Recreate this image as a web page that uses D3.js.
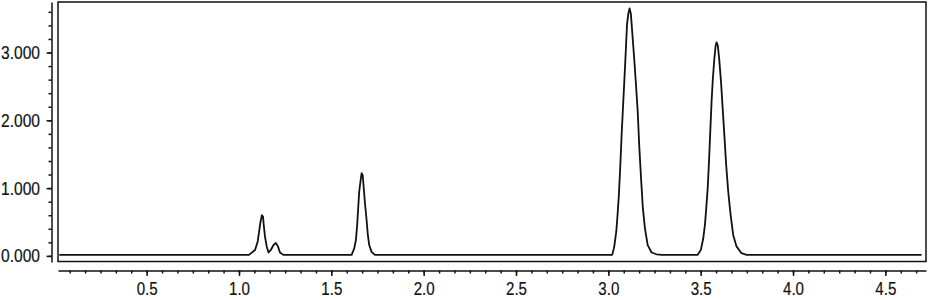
<!DOCTYPE html>
<html>
<head>
<meta charset="utf-8">
<script src="https://cdn.jsdelivr.net/npm/d3@7"></script>
<style>
  body { margin: 0; background: #fff; }
  .axis text { font-family: "Liberation Sans", Arial, sans-serif; font-size: 19px; fill: #111; stroke: #111; stroke-width: 0.2px; }
  .axis path, .axis line { stroke: #111; stroke-width: 1.5px; }
</style>
</head>
<body>
<div id="chromato"></div>
<script>
// temps en minutes, signal du détecteur
var ligneDebut = [[0.027, 0.015], [1.054, 0.015]];
var pic1 = [[1.087, 0.087], [1.101, 0.21], [1.108, 0.34], [1.115, 0.48], [1.124, 0.60], [1.130, 0.58],
            [1.134, 0.46], [1.141, 0.28], [1.150, 0.14], [1.160, 0.05], [1.173, 0.09], [1.187, 0.16],
            [1.200, 0.19], [1.211, 0.14], [1.222, 0.05], [1.240, 0.015]];
var pic2 = [[1.610, 0.015], [1.624, 0.11], [1.633, 0.23], [1.640, 0.46], [1.646, 0.73], [1.651, 0.95],
            [1.659, 1.12], [1.664, 1.22], [1.670, 1.19], [1.675, 1.02], [1.682, 0.78], [1.691, 0.53],
            [1.697, 0.33], [1.705, 0.16], [1.718, 0.06], [1.736, 0.015]];
var pic3 = [[3.021, 0.015], [3.032, 0.137], [3.043, 0.36], [3.050, 0.61], [3.057, 0.90], [3.064, 1.29],
            [3.072, 1.79], [3.081, 2.28], [3.090, 2.77], [3.095, 3.06], [3.101, 3.41], [3.108, 3.57],
            [3.115, 3.65], [3.122, 3.57], [3.129, 3.31], [3.140, 2.91], [3.151, 2.47], [3.159, 2.13],
            [3.167, 1.64], [3.177, 1.145], [3.187, 0.70], [3.198, 0.41], [3.213, 0.16], [3.234, 0.05],
            [3.261, 0.024], [3.290, 0.015]];
var pic4 = [[3.483, 0.015], [3.501, 0.089], [3.514, 0.26], [3.523, 0.46], [3.530, 0.70], [3.538, 1.00],
            [3.545, 1.39], [3.552, 1.84], [3.559, 2.28], [3.566, 2.62], [3.574, 2.91], [3.581, 3.10],
            [3.586, 3.15], [3.593, 3.10], [3.600, 2.91], [3.610, 2.57], [3.619, 2.18], [3.628, 1.785],
            [3.638, 1.34], [3.649, 0.95], [3.662, 0.605], [3.676, 0.31], [3.694, 0.14], [3.721, 0.04],
            [3.749, 0.015]];
var ligneFin = [[4.696, 0.015]];

var xTickLabels = [0.5, 1.0, 1.5, 2.0, 2.5, 3.0, 3.5, 4.0, 4.5];
var yTickLabels = [0, 1, 2, 3];

var trace = ligneDebut.concat(pic1, pic2, pic3, pic4, ligneFin);

function displayChromato() {
  var width = 929,
      height = 300;

  var svg = d3.select("#chromato").append("svg")
      .attr("width", width)
      .attr("height", height);

  var x = d3.scaleLinear().domain([0.02, 4.72]).range([58, 926]);
  var y = d3.scaleLinear().domain([-0.09, 3.745]).range([262, 2]);

  // cadre du graphique
  svg.append("rect")
      .attr("x", 58).attr("y", 2)
      .attr("width", 868).attr("height", 259.5)
      .style("fill", "none")
      .style("stroke", "#111")
      .style("stroke-width", "1.5px");

  // axe des x : petits traits toutes les 5 secondes
  var xMinor = d3.range(1, 57).map(function(k) { return k / 12; }).filter(function(v) { return v <= 4.72; });
  svg.append("g")
      .attr("class", "axis")
      .attr("transform", "translate(0,270.5)")
      .call(d3.axisBottom(x).tickValues(xMinor).tickSize(3).tickSizeOuter(0).tickFormat(""));

  var xLab = svg.append("g")
      .attr("class", "axis")
      .attr("transform", "translate(0,270.5)")
      .call(d3.axisBottom(x).tickValues(xTickLabels).tickSize(5.5).tickSizeOuter(0).tickPadding(6)
        .tickFormat(d3.format(".1f")));
  xLab.select(".domain").remove();
  // police étroite comme sur l'original
  xLab.selectAll("text").attr("textLength", 21).attr("lengthAdjust", "spacingAndGlyphs");

  // axe des y
  var yMinor = d3.range(0, 19).map(function(k) { return k * 0.2; });
  svg.append("g")
      .attr("class", "axis")
      .attr("transform", "translate(51.5,0)")
      .call(d3.axisLeft(y).tickValues(yMinor).tickSize(3).tickSizeOuter(0).tickFormat(""));

  var yLab = svg.append("g")
      .attr("class", "axis")
      .attr("transform", "translate(51.5,0)")
      .call(d3.axisLeft(y).tickValues(yTickLabels).tickSize(5).tickSizeOuter(0).tickPadding(6.5)
        .tickFormat(d3.format(".3f")));
  yLab.select(".domain").remove();
  yLab.selectAll("text").attr("textLength", 39).attr("lengthAdjust", "spacingAndGlyphs");

  // le chromatogramme
  var line = d3.line()
      .x(function(d) { return x(d[0]); })
      .y(function(d) { return y(d[1]); });

  svg.append("path")
      .datum(trace)
      .attr("d", line)
      .style("fill", "none")
      .style("stroke", "#111")
      .style("stroke-width", "1.8px")
      .style("stroke-linejoin", "round");
}

displayChromato();
</script>
</body>
</html>
